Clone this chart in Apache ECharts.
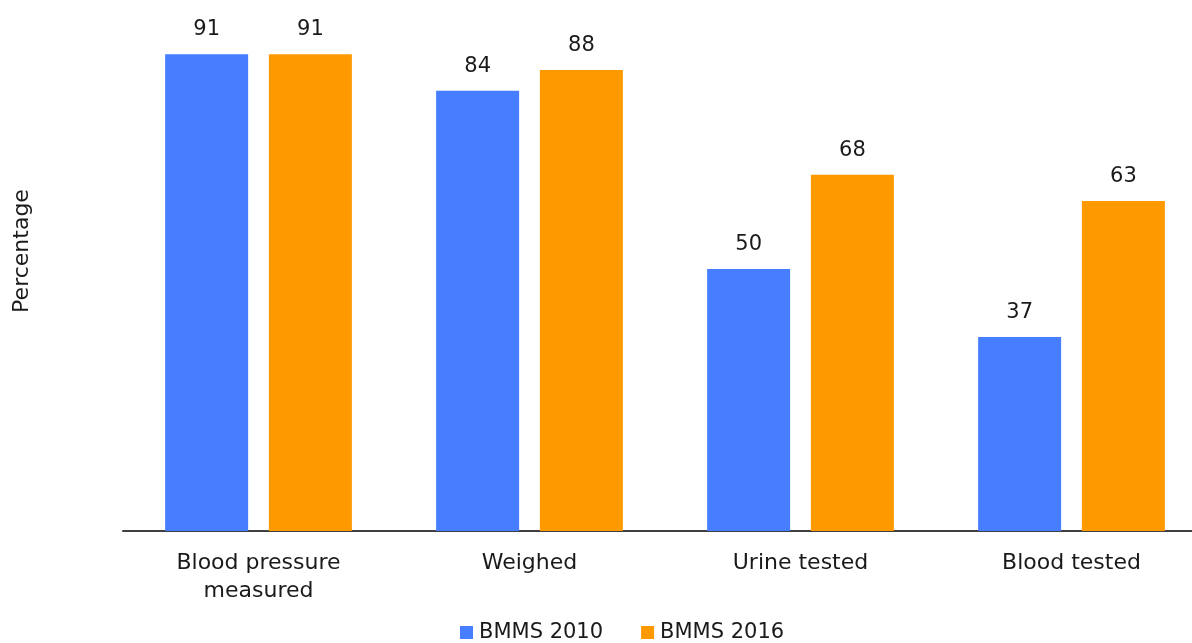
<!DOCTYPE html>
<html>
<head>
<meta charset="utf-8">
<script src="https://cdn.jsdelivr.net/npm/echarts@6/dist/echarts.min.js"></script>
<style>
  html, body { margin: 0; padding: 0; background: #fff; overflow: hidden; }
  #chart { width: 1207px; height: 643px; }
</style>
</head>
<body>
<div id="chart"></div>
<script>
// Antenatal checks received, by survey round
const categories = ['Blood pressure\nmeasured', 'Weighed', 'Urine tested', 'Blood tested'];
const bmms2010 = [91, 84, 50, 37];
const bmms2016 = [91, 88, 68, 63];
const seriesNames = ['BMMS 2010', 'BMMS 2016'];
const axisTitle = 'Percentage';

const FONT = '"DejaVu Sans", sans-serif';
const TEXT = '#1a1a1a';

// the plot runs a little past the right edge of the window, so the last
// category is trimmed the same way the axis line is
const chart = echarts.init(document.getElementById('chart'), null, { renderer: 'canvas' });

const labelStyle = {
  show: true,
  position: 'top',
  distance: 14,
  color: TEXT,
  fontFamily: FONT,
  fontSize: 21
};

chart.setOption({
  animation: false,
  backgroundColor: '#ffffff',
  grid: { left: 123, right: 0, top: 7, bottom: 112, containLabel: false },
  legend: {
    data: seriesNames,
    left: 455,
    top: 617,
    itemWidth: 13,
    itemHeight: 13,
    itemGap: 38,
    icon: 'rect',
    textStyle: { color: TEXT, fontFamily: FONT, fontSize: 21, padding: [0, 0, 0, 1] }
  },
  // vertical axis title, set a little above the middle of the plot
  graphic: [{
    type: 'text',
    x: 22,
    y: 251,
    rotation: Math.PI / 2,
    style: {
      text: axisTitle,
      fill: TEXT,
      font: '22px "DejaVu Sans", sans-serif',
      align: 'center',
      verticalAlign: 'middle'
    }
  }],
  xAxis: {
    type: 'category',
    data: categories,
    axisLine: { lineStyle: { color: '#404040', width: 2 } },
    axisTick: { show: false },
    axisLabel: {
      color: TEXT,
      fontFamily: FONT,
      fontSize: 22,
      lineHeight: 28,
      margin: 18,
      interval: 0
    }
  },
  yAxis: {
    type: 'value',
    min: 0,
    max: 100,
    axisLine: { show: false },
    axisTick: { show: false },
    axisLabel: { show: false },
    splitLine: { show: false }
  },
  series: [
    {
      name: seriesNames[0],
      type: 'bar',
      data: bmms2010,
      barWidth: 83,
      barGap: '25%',
      itemStyle: { color: '#477dff' },
      label: labelStyle
    },
    {
      name: seriesNames[1],
      type: 'bar',
      data: bmms2016,
      barWidth: 83,
      barGap: '25%',
      itemStyle: { color: '#ff9900' },
      label: labelStyle
    }
  ]
});
</script>
</body>
</html>
